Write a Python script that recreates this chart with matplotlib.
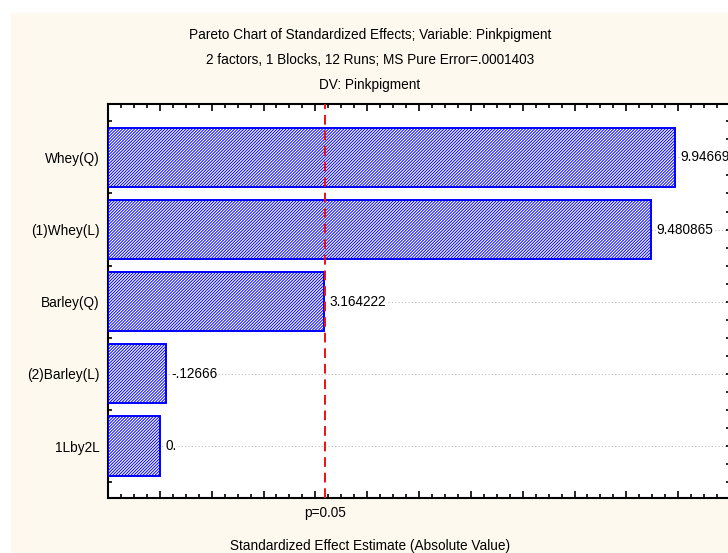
import matplotlib.pyplot as plt
from matplotlib.ticker import MultipleLocator
import matplotlib.transforms as mtransforms

# data (top to bottom as in chart)
effects = ['Whey(Q)', '(1)Whey(L)', 'Barley(Q)', '(2)Barley(L)', '1Lby2L']
values = [9.94669, 9.480865, 3.164222, -0.12666, 0.0]
labels = ['9.94669', '9.480865', '3.164222', '-.12666', '0.']
p_crit = 3.182
x_start = -1

plt.rcParams['font.family'] = ['Liberation Sans', 'DejaVu Sans']
plt.rcParams['hatch.linewidth'] = 0.7

fs = 9.8

fig = plt.figure(figsize=(7.28, 5.53), dpi=100)
fig.patch.set_facecolor('white')
cream = plt.Rectangle((11 / 728, 0), 1, 1 - 13 / 553, transform=fig.transFigure,
                      facecolor='#fdf9ee', edgecolor='none', zorder=-10)
fig.add_artist(cream)

ax = fig.add_axes([108 / 728, 55 / 553, 622 / 728, 394 / 553])
ax.set_facecolor('white')

n = len(effects)
pos = [n - 1 - i for i in range(n)]
widths = [abs(v) - x_start for v in values]

ax.barh(pos, widths, left=x_start, height=0.82, facecolor='white',
        edgecolor='#0000ff', hatch='/' * 11, linewidth=1.4, zorder=3)

for p, v, lab in zip(pos, values, labels):
    ax.axhline(p, color='#bbbbbb', lw=0.8, ls=(0, (1, 2)), zorder=1)
    ax.text(abs(v) + 0.1, p, lab, va='center', ha='left', fontsize=fs,
            bbox=dict(facecolor='white', edgecolor='none', pad=0.5), zorder=4)

ax.axvline(p_crit, color='#ee1111', lw=1.4, ls=(0, (5, 3)), zorder=5)

ax.set_xlim(-1, 11)
ax.set_ylim(-0.72, 4.74)
ax.xaxis.set_major_locator(MultipleLocator(1))
ax.xaxis.set_minor_locator(MultipleLocator(0.25))
ax.set_xticklabels([])
ax.set_yticks(pos)
ax.set_yticklabels(effects, fontsize=fs)
ax.yaxis.set_minor_locator(MultipleLocator(0.25))
ax.tick_params(axis='both', which='both', direction='in', top=True, right=True, width=1.2)
ax.tick_params(axis='x', which='major', length=5)
ax.tick_params(axis='x', which='minor', length=3)
ax.tick_params(axis='y', which='both', length=3, pad=6)

for s in ax.spines.values():
    s.set_linewidth(1.5)

trans = mtransforms.blended_transform_factory(ax.transData, fig.transFigure)
ax.text(p_crit, 1 - 513 / 553, 'p=0.05', transform=trans, ha='center', va='center', fontsize=fs)

cx = 370 / 728
fig.text(cx, 1 - 35 / 553, 'Pareto Chart of Standardized Effects; Variable: Pinkpigment',
         ha='center', va='center', fontsize=fs)
fig.text(cx, 1 - 60 / 553, '2 factors, 1 Blocks, 12 Runs; MS Pure Error=.0001403',
         ha='center', va='center', fontsize=fs)
fig.text(cx, 1 - 85 / 553, 'DV: Pinkpigment', ha='center', va='center', fontsize=fs)
fig.text(cx, 1 - 546 / 553, 'Standardized Effect Estimate (Absolute Value)',
         ha='center', va='center', fontsize=fs)

fig.savefig('out.png', dpi=100)
